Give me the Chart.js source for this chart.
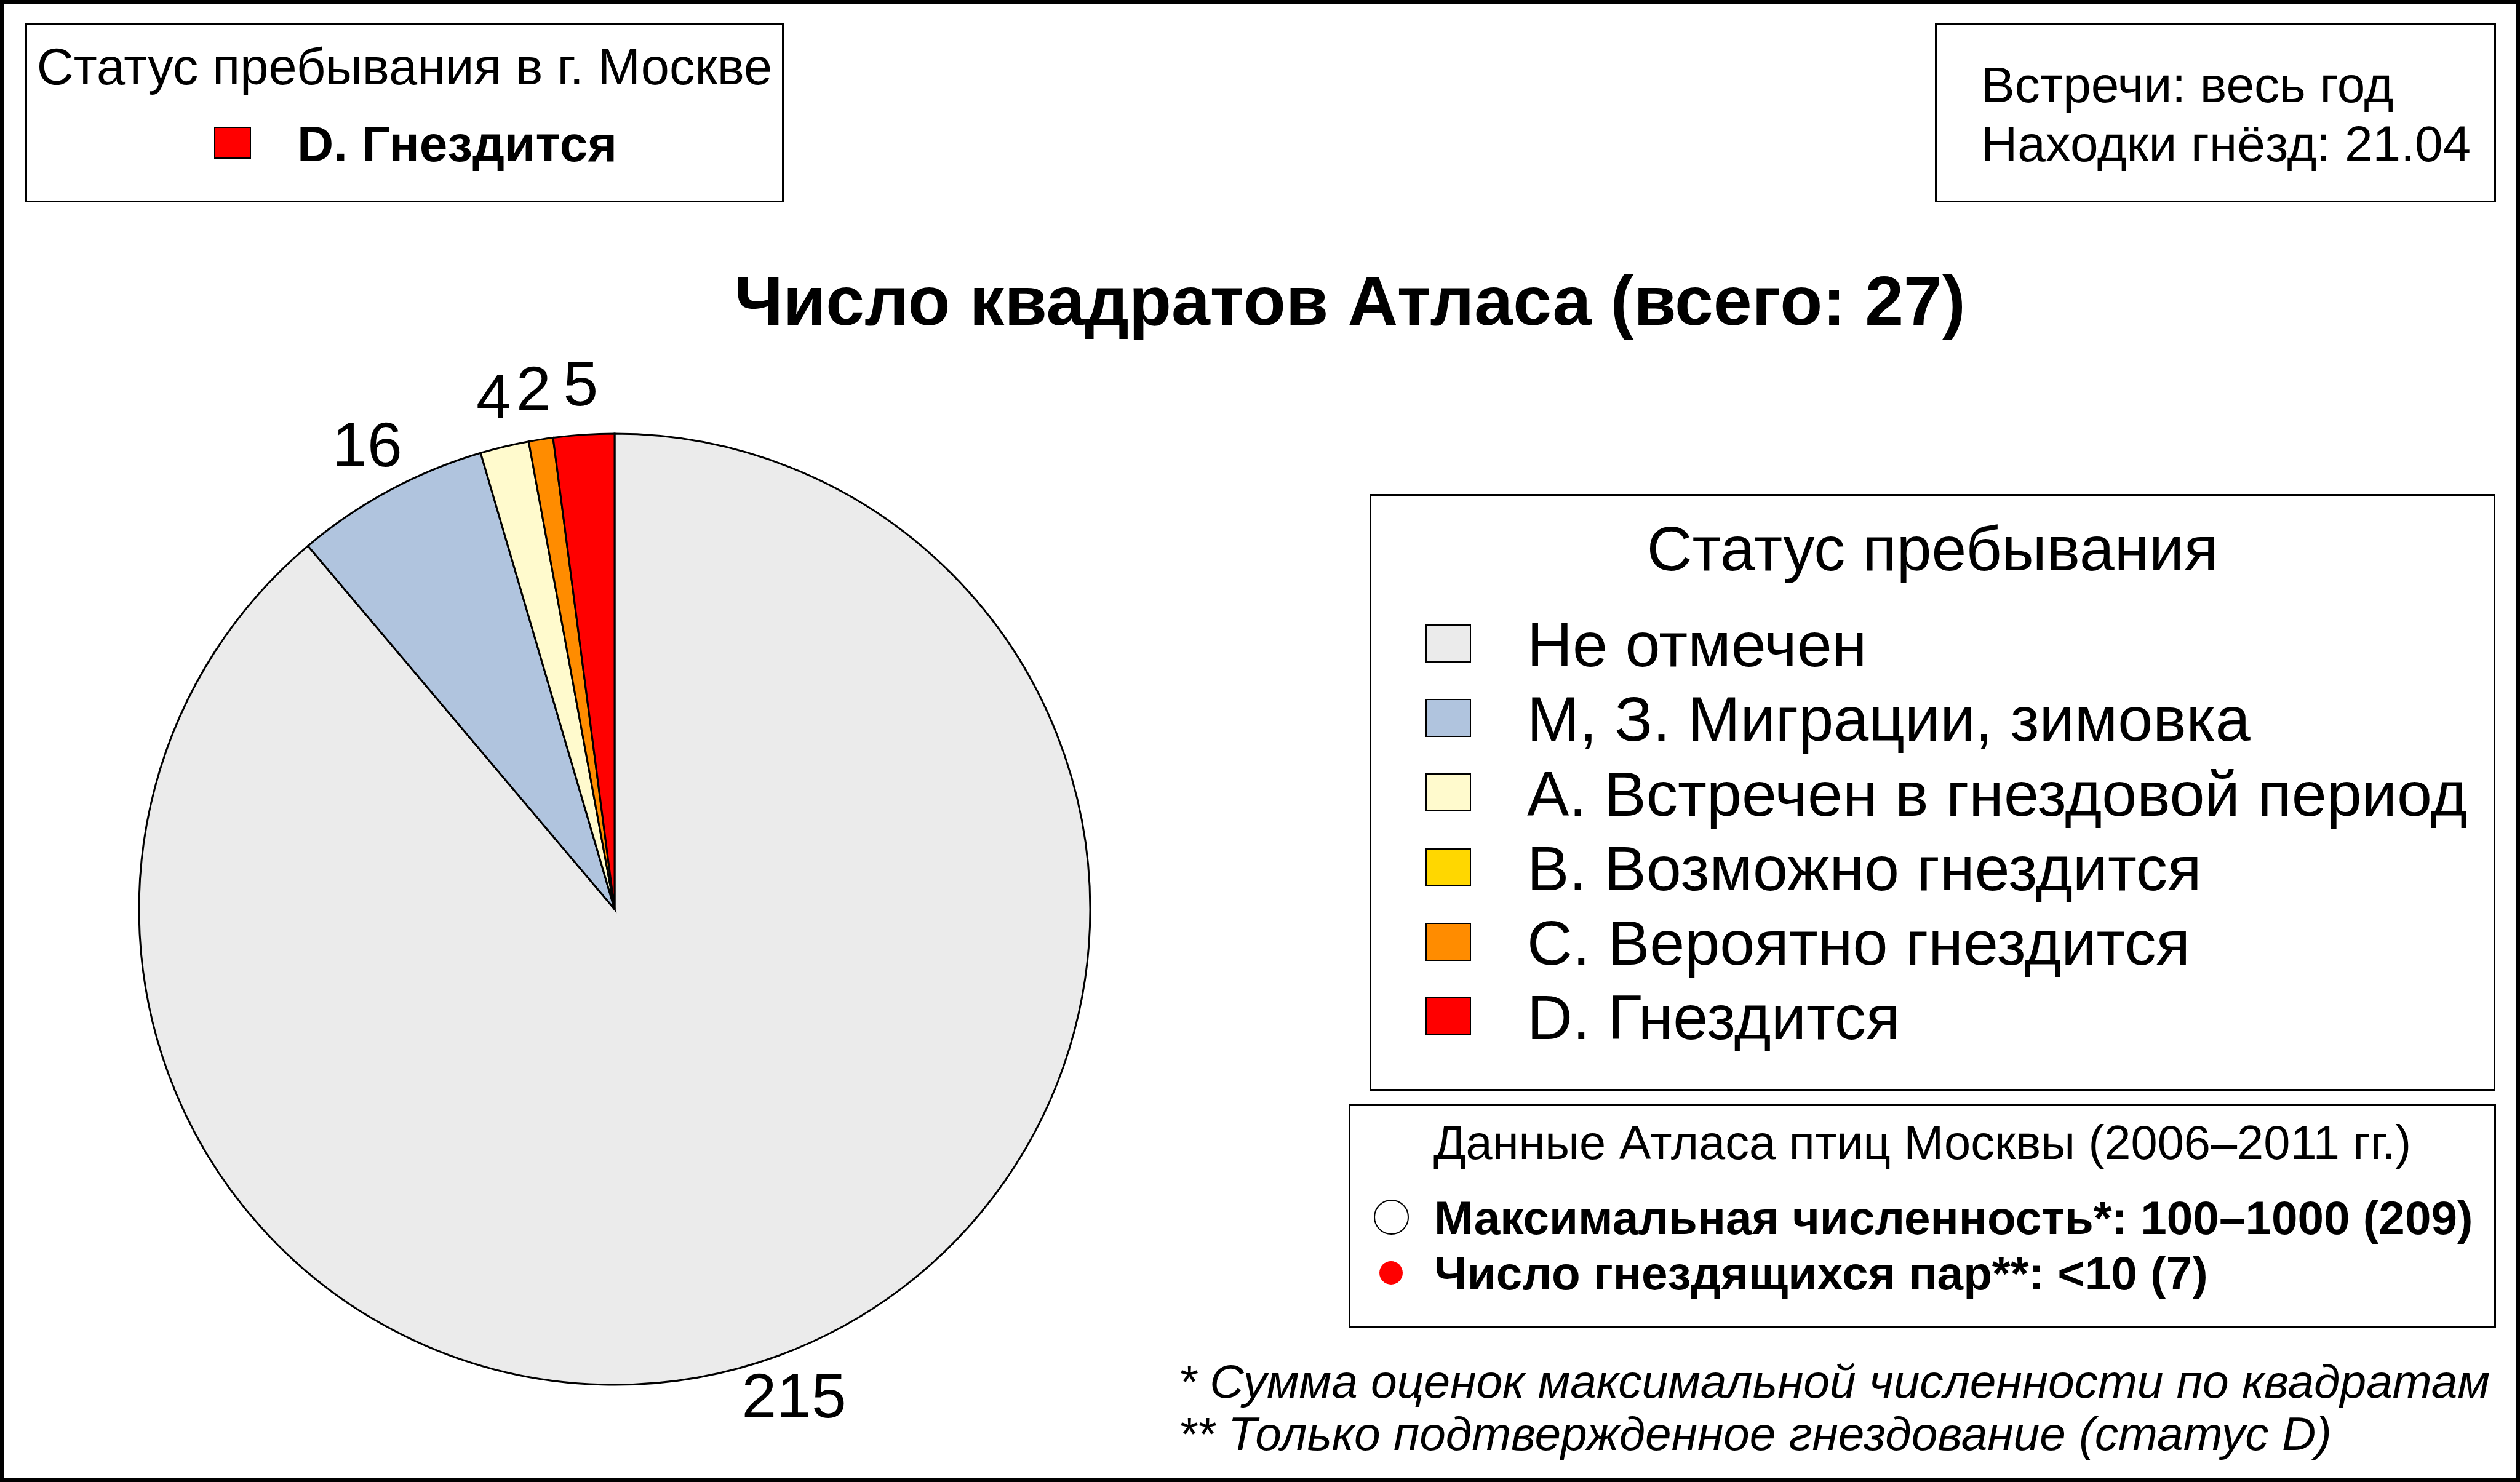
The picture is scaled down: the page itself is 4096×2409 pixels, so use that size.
<!DOCTYPE html>
<html>
<head>
<meta charset="utf-8">
<script src="https://cdn.jsdelivr.net/npm/chart.js@4.4.1/dist/chart.umd.min.js"></script>
<style>
html,body{margin:0;padding:0;background:#fff;overflow:hidden}
#wrap{position:relative;width:4096px;height:2409px;font-family:"Liberation Sans",Arial,sans-serif;color:#000;overflow:hidden}
#c{position:absolute;left:0;top:0}
.t{position:absolute;white-space:nowrap;line-height:1}
.box{position:absolute;border:3px solid #000;box-sizing:border-box}
.sw{position:absolute;box-sizing:border-box;border:2.5px solid #000}
</style>
</head>
<body>
<div id="wrap"><canvas id="c" width="4096" height="2409"></canvas></div>
<script>
// ---- data ----
const categories = ['Не отмечен', 'М, З. Миграции, зимовка', 'A. Встречен в гнездовой период', 'B. Возможно гнездится', 'C. Вероятно гнездится', 'D. Гнездится'];
const counts = [215, 16, 4, 0, 2, 5];
const colors = ['#EBEBEB', '#B0C4DE', '#FFFACD', '#FFD700', '#FF8C00', '#FF0000'];
const statusTitle = 'Статус пребывания в г. Москве';
const statusValue = 'D. Гнездится';
const infoLines = ['Встречи: весь год', 'Находки гнёзд: 21.04'];
const legendTitle = 'Статус пребывания';
const atlasTitle = 'Данные Атласа птиц Москвы (2006–2011 гг.)';
const atlasLines = ['Максимальная численность*: 100–1000 (209)', 'Число гнездящихся пар**: <10 (7)'];
const footnotes = ['* Сумма оценок максимальной численности по квадратам', '** Только подтвержденное гнездование (статус D)'];
const squaresTotal = counts.slice(1).reduce((a, b) => a + b, 0);
const chartTitle = 'Число квадратов Атласа (всего: ' + squaresTotal + ')';

// ---- helpers for overlay text ----
const wrap = document.getElementById('wrap');
function el(cls, css, text) {
  const d = document.createElement('div');
  d.className = cls;
  Object.assign(d.style, css);
  if (text !== undefined) d.textContent = text;
  wrap.appendChild(d);
  return d;
}
function txt(str, x, baseline, size, o) {
  o = o || {};
  const css = {
    left: x + 'px',
    top: (baseline - 0.8465 * size) + 'px',
    fontSize: size + 'px',
    fontWeight: o.bold ? 'bold' : 'normal',
    fontStyle: o.italic ? 'italic' : 'normal'
  };
  if (o.center) css.transform = 'translateX(-50%)';
  return el('t', css, str);
}
function box(l, t, w, h, bw) {
  return el('box', {left: l + 'px', top: t + 'px', width: w + 'px', height: h + 'px', borderWidth: (bw || 3) + 'px'});
}

// outer frame
box(0, 0, 4096, 2409, 6);

// top-left status box
box(41, 37, 1233, 292);
txt(statusTitle, 657.5, 137, 83, {center: true});
el('sw', {left: '348px', top: '206px', width: '60px', height: '52px', background: colors[5], borderWidth: '2px'});
txt(statusValue, 483, 262, 82, {bold: true});

// top-right info box
box(3145, 37, 912, 292);
txt(infoLines[0], 3220, 166, 82);
txt(infoLines[1], 3220, 262, 82);

// main title
txt(chartTitle, 2194, 529, 113, {bold: true, center: true});

// legend box
box(2226, 803, 1830, 970);
txt(legendTitle, 3141, 927, 102, {center: true});
categories.forEach((c, i) => {
  const dy = i * 121.2;
  el('sw', {left: '2317px', top: (1015 + dy) + 'px', width: '74px', height: '62px', background: colors[i]});
  txt(c, 2482, 1084 + dy, 102.5);
});

// atlas box
box(2192, 1795, 1865, 363);
txt(atlasTitle, 3124.5, 1885, 77.6, {center: true});
el('t', {left: '2232.5px', top: '1949.5px', width: '57px', height: '57px', borderRadius: '50%', border: '2.5px solid #000', boxSizing: 'border-box', background: '#fff'});
el('t', {left: '2242px', top: '2049.6px', width: '38px', height: '38px', borderRadius: '50%', background: '#FF0000'});
txt(atlasLines[0], 2331, 2007, 76.5, {bold: true});
txt(atlasLines[1], 2331, 2097, 76.5, {bold: true});

// footnotes
txt(footnotes[0], 1915, 2273, 76.7, {italic: true});
txt(footnotes[1], 1915, 2358, 76.7, {italic: true});

// ---- pie chart ----
const pieLabels = {
  id: 'pieLabels',
  afterDatasetsDraw(chart) {
    const ctx = chart.ctx;
    const meta = chart.getDatasetMeta(0);
    ctx.save();
    ctx.font = '102px "Liberation Sans", Arial, sans-serif';
    ctx.fillStyle = '#000';
    ctx.textAlign = 'center';
    ctx.textBaseline = 'middle';
    meta.data.forEach((arc, i) => {
      const v = chart.data.datasets[0].data[i];
      if (!v) return;
      const p = arc.getProps(['x', 'y', 'startAngle', 'endAngle', 'outerRadius'], true);
      const mid = (p.startAngle + p.endAngle) / 2;
      const r = p.outerRadius + 76;
      ctx.fillText(String(v), p.x + Math.cos(mid) * r, p.y + Math.sin(mid) * r);
    });
    ctx.restore();
  }
};

new Chart(document.getElementById('c'), {
  type: 'pie',
  data: {
    labels: categories,
    datasets: [{
      data: counts,
      backgroundColor: colors,
      borderColor: '#000',
      borderWidth: 3,
      borderJoinStyle: 'miter',
      radius: 773,
      hoverOffset: 0
    }]
  },
  options: {
    responsive: false,
    animation: false,
    events: [],
    rotation: 0,
    layout: {padding: {left: 199, right: 2297, top: 678, bottom: 131}},
    plugins: {legend: {display: false}, tooltip: {enabled: false}, title: {display: false}}
  },
  plugins: [pieLabels]
});
</script>
</body>
</html>
